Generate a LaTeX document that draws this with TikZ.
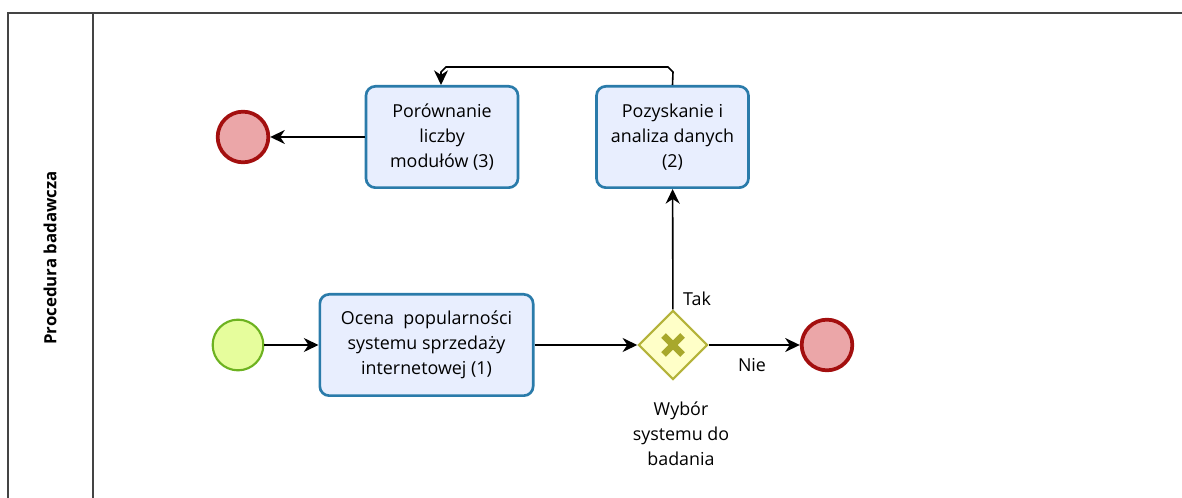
\documentclass[tikz,border=0pt]{standalone}
\usepackage{fontspec}
\setmainfont{Open Sans}
\usetikzlibrary{shapes.geometric,arrows.meta,calc}
\definecolor{taskfill}{HTML}{E8EEFE}
\definecolor{taskdraw}{HTML}{2A7BAA}
\definecolor{startfill}{HTML}{E6FD9C}
\definecolor{startdraw}{HTML}{6DB220}
\definecolor{endfill}{HTML}{EBA6A8}
\definecolor{enddraw}{HTML}{A30F0F}
\definecolor{gwfill}{HTML}{FFFFC8}
\definecolor{gwdraw}{HTML}{B4B33A}
\definecolor{gwx}{HTML}{A8A82C}
\definecolor{poolline}{HTML}{444444}
\tikzset{
  task/.style={draw=taskdraw, fill=taskfill, line width=2pt, rounded corners=7pt,
    align=center, font=\fontsize{13.4}{18.75}\selectfont, inner sep=0pt},
  startev/.style={circle, draw=startdraw, fill=startfill, line width=1.6pt, minimum size=38pt, inner sep=0pt},
  endev/.style={circle, draw=enddraw, fill=endfill, line width=2.8pt, minimum size=38pt, inner sep=0pt},
  gateway/.style={diamond, draw=gwdraw, fill=gwfill, line width=1.6pt, minimum width=52pt, minimum height=52pt, inner sep=0pt},
  flow/.style={draw=black, line width=1.2pt, -{Stealth[length=11pt,width=10.5pt,inset=3.5pt]}},
  lbl/.style={font=\fontsize{13.4}{18.75}\selectfont, align=center, inner sep=0pt}
}
\begin{document}
\begin{tikzpicture}[x=0.75pt,y=-0.75pt]
\useasboundingbox (0,0) rectangle (1182,498);
% pool
\draw[poolline, line width=1.2pt] (8,510) -- (8,13) -- (1195,13);
\draw[poolline, line width=1.2pt] (93,13) -- (93,510);
\node[rotate=90, font=\bfseries\fontsize{12.6}{14}\selectfont] (lane) at (50,258) {Procedura badawcza};
% nodes
\node[startev] (start) at (238,345) {};
\node[task, minimum width=160pt, minimum height=76pt] (t1) at (426.5,345) {Ocena\ \ popularności\\systemu sprzedaży\\internetowej (1)};
\node[gateway] (gw) at (673,345) {};
\draw[gwx, line width=5pt] ($(gw.center)+(-9.5,-9.5)$) -- ($(gw.center)+(9.5,9.5)$);
\draw[gwx, line width=5pt] ($(gw.center)+(-9.5,9.5)$) -- ($(gw.center)+(9.5,-9.5)$);
\node[endev] (endr) at (827,345) {};
\node[task, minimum width=114pt, minimum height=76pt] (t2) at (672.5,137) {Pozyskanie i\\analiza danych\\(2)};
\node[task, minimum width=114pt, minimum height=76pt] (t3) at (442,137) {Porównanie\\liczby\\modułów (3)};
\node[endev] (endl) at (243,137) {};
% labels
\node[lbl] (gwlbl) at (681,434) {Wybór\\systemu do\\badania};
\node[lbl] (tak) at (697,299) {Tak};
\node[lbl] (nie) at (752,365) {Nie};
% flows
\draw[flow] (start) -- (t1);
\draw[flow] (t1) -- (gw);
\draw[flow] (gw) -- (endr);
\draw[flow] (gw) -- (t2);
\coordinate (c1) at (673,72);
\coordinate (c2) at (668,67);
\coordinate (c3) at (446,67);
\coordinate (c4) at (441,72);
\draw[flow] (t2.north) -- (c1) -- (c2) -- (c3) -- (c4) -- (t3.north -| c4);
\draw[flow] (t3) -- (endl);
\end{tikzpicture}
\end{document}
